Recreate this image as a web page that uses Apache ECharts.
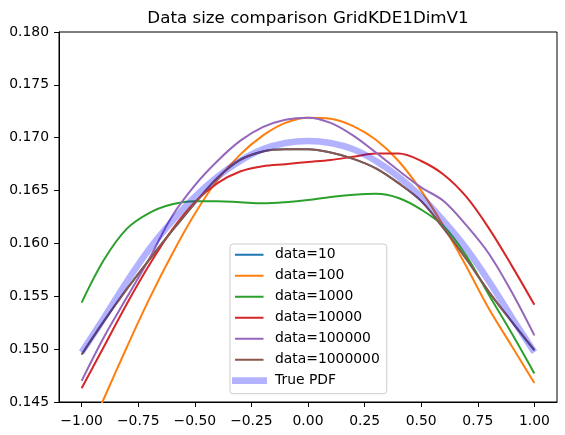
<!DOCTYPE html>
<html>
<head>
<meta charset="utf-8">
<script src="https://cdn.jsdelivr.net/npm/echarts@6/dist/echarts.min.js"></script>
<style>
  html, body { margin: 0; padding: 0; background: #fff; }
  #chart { width: 565px; height: 435px; }
</style>
</head>
<body>
<div id="chart"></div>
<script>
// x grid the curves were read at
const xs = [-1.0, -0.9, -0.8, -0.7, -0.6, -0.5, -0.4, -0.3, -0.2, -0.1, 0.0,
            0.1, 0.2, 0.3, 0.4, 0.5, 0.6, 0.7, 0.8, 0.9, 1.0];

const xTicks = [-1, -0.75, -0.5, -0.25, 0, 0.25, 0.5, 0.75, 1];

const names = ['data=10', 'data=100', 'data=1000', 'data=10000', 'data=100000', 'data=1000000', 'True PDF'];

// data=10 sits under the data=1000000 curve in the picture
const data10 = [0.1495, 0.1527, 0.1557, 0.1585, 0.1612, 0.1638, 0.1662, 0.1679, 0.1687, 0.1689, 0.1689,
                0.1686, 0.1680, 0.1671, 0.1657, 0.1640, 0.1614, 0.1585, 0.1554, 0.1526, 0.1499];
const data100 = [0.1405, 0.1454, 0.1502, 0.1548, 0.1590, 0.1628, 0.1660, 0.1684, 0.1702, 0.1714, 0.1719,
                 0.1718, 0.1711, 0.1698, 0.1678, 0.1650, 0.1616, 0.1578, 0.1538, 0.1503, 0.1468];
const data1000 = [0.1544, 0.1585, 0.1614, 0.1629, 0.1637, 0.1640, 0.1640, 0.1639, 0.1638, 0.1639, 0.1641,
                  0.1644, 0.1646, 0.1647, 0.1643, 0.1632, 0.1616, 0.1588, 0.1551, 0.1515, 0.1477];
const data10000 = [0.1463, 0.1503, 0.1543, 0.1580, 0.1613, 0.1639, 0.1657, 0.1668, 0.1673, 0.1675, 0.1677,
                   0.1679, 0.1682, 0.1685, 0.1685, 0.1678, 0.1665, 0.1644, 0.1614, 0.1579, 0.1542];
const data100000 = [0.1470, 0.1512, 0.1549, 0.1586, 0.1626, 0.1655, 0.1678, 0.1697, 0.1710, 0.1717, 0.1719,
                    0.1714, 0.1702, 0.1686, 0.1669, 0.1653, 0.1640, 0.1617, 0.1590, 0.1554, 0.1513];
const data1000000 = [0.1495, 0.1527, 0.1557, 0.1585, 0.1612, 0.1638, 0.1662, 0.1679, 0.1687, 0.1689, 0.1689,
                     0.1686, 0.1680, 0.1671, 0.1657, 0.1640, 0.1614, 0.1585, 0.1554, 0.1526, 0.1499];
const truePdf = [0.1497, 0.1530, 0.1564, 0.1595, 0.1621, 0.1644, 0.1663, 0.1678, 0.1689, 0.1695, 0.1697,
                 0.1695, 0.1689, 0.1678, 0.1663, 0.1644, 0.1621, 0.1595, 0.1564, 0.1530, 0.1497];

const colors = ['#1f77b4', '#ff7f0e', '#2ca02c', '#d62728', '#9467bd', '#8c564b', 'rgba(0,0,255,0.3)'];
const allY = [data10, data100, data1000, data10000, data100000, data1000000, truePdf];

const FONT = 'DejaVu Sans';
const fmt = (v, d) => v.toFixed(d).replace('-', '\u2212');

// legend samples: thin line / thick band, padded so the box is 35x10
const thinIcon = 'path://M0,0L0,0.01M3,4L31.5,4L31.5,6L3,6ZM35,10L35,10.01';
const thickIcon = 'path://M0,0L0,0.01M0,1.6L35,1.6L35,8.4L0,8.4ZM35,10L35,10.01';

const chart = echarts.init(document.getElementById('chart'));

const series = names.map((name, i) => ({
  name: name,
  type: 'line',
  data: xs.map((x, j) => [x, allY[i][j]]),
  smooth: 0.35,
  symbol: 'none',
  clip: true,
  color: colors[i],
  lineStyle: { width: i === 6 ? 6.5 : 2, color: colors[i] },
  z: 2 + i,
}));

chart.setOption({
  animation: false,
  textStyle: { fontFamily: FONT },
  title: {
    text: 'Data size comparison GridKDE1DimV1',
    left: 308,
    top: 10,
    padding: 0,
    textAlign: 'center',
    textStyle: { fontFamily: FONT, fontSize: 16.7, fontWeight: 'normal', color: '#000' },
  },
  grid: {
    left: 59,
    right: 8,
    top: 32,
    bottom: 33,
    show: true,
    borderColor: '#000',
    borderWidth: 1,
    containLabel: false,
  },
  legend: {
    orient: 'vertical',
    left: 230,
    top: 244,
    padding: [3.7, 7, 6, 2],
    itemWidth: 35,
    itemHeight: 14,
    itemGap: 7,
    backgroundColor: 'rgba(255,255,255,0.8)',
    borderColor: '#cccccc',
    borderWidth: 1,
    borderRadius: 3,
    textStyle: { fontFamily: FONT, fontSize: 13.9, lineHeight: 14, color: '#000', padding: [0, 0, 0, 3] },
    data: names.map((n, i) => ({
      name: n,
      icon: i === 6 ? thickIcon : thinIcon,
      itemStyle: { color: colors[i] },
    })),
  },
  xAxis: {
    type: 'value',
    min: -1.1,
    max: 1.1,
    splitLine: { show: false },
    axisLine: { show: true, onZero: false, lineStyle: { color: '#000', width: 1 } },
    axisTick: { show: true, length: 4.9, customValues: xTicks, lineStyle: { color: '#000' } },
    axisLabel: {
      customValues: xTicks,
      margin: 12,
      fontFamily: FONT,
      fontSize: 13.9,
      color: '#000',
      formatter: v => fmt(v, 2),
    },
  },
  yAxis: {
    type: 'value',
    min: 0.145,
    max: 0.18,
    interval: 0.005,
    splitLine: { show: false },
    axisLine: { show: true, onZero: false, lineStyle: { color: '#000', width: 1 } },
    axisTick: { show: true, length: 4.9, lineStyle: { color: '#000' } },
    axisLabel: {
      margin: 10,
      fontFamily: FONT,
      fontSize: 13.9,
      color: '#000',
      formatter: v => fmt(v, 3),
    },
  },
  series: series,
});
</script>
</body>
</html>
